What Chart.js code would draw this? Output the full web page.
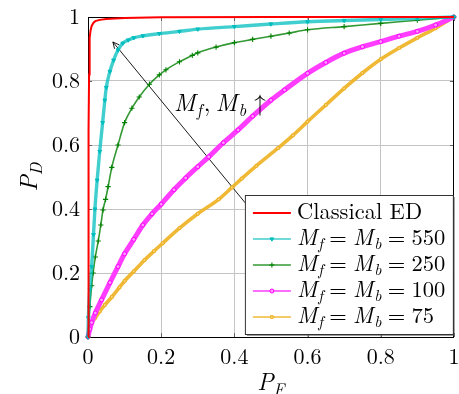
<!DOCTYPE html>
<html><head><meta charset="utf-8">
<script src="https://cdn.jsdelivr.net/npm/chart.js@4"></script>
<style>html,body{margin:0;padding:0;background:#fff}#wrap{width:459px;height:394px}</style>
</head><body>
<div id="wrap"><canvas id="c" width="459" height="394"></canvas></div>
<script>
// ---- tick labels ----
const xTicks = [0, 0.2, 0.4, 0.6, 0.8, 1];
const yTicks = [0, 0.2, 0.4, 0.6, 0.8, 1];

// ---- series (P_F, P_D) ----
const seriesLabels = ['Classical ED', 'M_f = M_b = 550', 'M_f = M_b = 250', 'M_f = M_b = 100', 'M_f = M_b = 75'];
const seriesSizes = ['550', '250', '100', '75'];

const classicalX = [0, 0.001, 0.002, 0.003, 0.004, 0.005, 0.007, 0.01, 0.015, 0.02, 0.032, 0.05, 0.1, 0.2, 0.5, 1];
const classicalY = [0, 0.35, 0.65, 0.82, 0.9, 0.935, 0.958, 0.972, 0.982, 0.987, 0.991, 0.994, 0.997, 0.999, 1, 1];

const m550X = [0, 0.001, 0.005, 0.01, 0.015, 0.019, 0.025, 0.032, 0.04, 0.046, 0.05, 0.06, 0.07, 0.082, 0.095, 0.11, 0.125, 0.15, 0.195, 0.25, 0.3, 0.4, 0.5, 0.6, 0.7, 0.8, 0.9, 1];
const m550Y = [0, 0.06, 0.15, 0.22, 0.32, 0.40, 0.49, 0.58, 0.67, 0.74, 0.78, 0.83, 0.865, 0.897, 0.918, 0.928, 0.935, 0.941, 0.948, 0.955, 0.962, 0.97, 0.978, 0.985, 0.989, 0.992, 0.996, 1];

const m250X = [0, 0.005, 0.01, 0.014, 0.02, 0.028, 0.035, 0.041, 0.048, 0.055, 0.065, 0.082, 0.1, 0.12, 0.14, 0.168, 0.195, 0.213, 0.25, 0.285, 0.3, 0.35, 0.4, 0.45, 0.5, 0.55, 0.6, 0.7, 0.8, 0.9, 1];
const m250Y = [0, 0.095, 0.16, 0.2, 0.25, 0.3, 0.35, 0.397, 0.43, 0.47, 0.53, 0.6, 0.67, 0.715, 0.75, 0.79, 0.819, 0.835, 0.86, 0.88, 0.888, 0.906, 0.92, 0.93, 0.94, 0.95, 0.96, 0.97, 0.98, 0.99, 1];

const m100X = [0, 0.005, 0.01, 0.02, 0.037, 0.06, 0.082, 0.1, 0.125, 0.15, 0.175, 0.2, 0.235, 0.267, 0.3, 0.33, 0.37, 0.41, 0.45, 0.5, 0.537, 0.6, 0.65, 0.7, 0.75, 0.8, 0.85, 0.9, 0.95, 1];
const m100Y = [0, 0.025, 0.045, 0.075, 0.116, 0.17, 0.22, 0.26, 0.305, 0.35, 0.385, 0.415, 0.46, 0.497, 0.532, 0.563, 0.607, 0.647, 0.69, 0.74, 0.772, 0.824, 0.858, 0.887, 0.907, 0.923, 0.94, 0.955, 0.975, 1];

const m75X = [0, 0.005, 0.01, 0.02, 0.032, 0.046, 0.065, 0.086, 0.1, 0.125, 0.154, 0.18, 0.204, 0.25, 0.3, 0.357, 0.393, 0.42, 0.46, 0.519, 0.56, 0.6, 0.65, 0.7, 0.75, 0.8, 0.85, 0.9, 0.95, 1];
const m75Y = [0, 0.025, 0.043, 0.06, 0.08, 0.1, 0.125, 0.155, 0.175, 0.205, 0.24, 0.268, 0.293, 0.34, 0.385, 0.43, 0.467, 0.495, 0.535, 0.59, 0.63, 0.673, 0.725, 0.777, 0.825, 0.868, 0.903, 0.935, 0.965, 1];

// annotation arrow (data coords): tail hidden under legend, head near the 550 curve
const arrowTail = [0.45, 0.391];
const arrowHead = [0.068, 0.922];
const arrowLabelPos = [0.235, 0.706];

const pts = (xs, ys) => xs.map((x, i) => ({x, y: ys[i]}));

const COL = {
  red: 'rgb(255,0,0)',
  cyan: 'rgb(0,190,190)', cyanL: 'rgba(0,190,190,0.75)',
  green: 'rgb(0,128,0)', greenL: 'rgba(0,128,0,0.8)',
  mag: 'rgb(255,0,255)', magL: 'rgb(255,60,255)',
  org: 'rgb(237,177,32)', orgL: 'rgba(237,177,32,0.9)'
};

const datasets = [
  {label: seriesLabels[0], data: pts(classicalX, classicalY), borderColor: COL.red, borderWidth: 2, pointRadius: 0, tension: 0},
  {label: seriesLabels[1], data: pts(m550X, m550Y), borderColor: COL.cyanL, borderWidth: 3.4,
   pointStyle: 'triangle', pointRotation: 180, pointRadius: 2.2, pointBackgroundColor: COL.cyan, pointBorderColor: COL.cyan, pointBorderWidth: 1, cubicInterpolationMode: 'monotone'},
  {label: seriesLabels[2], data: pts(m250X, m250Y), borderColor: COL.greenL, borderWidth: 1.6,
   pointStyle: 'cross', pointRadius: 2.6, pointBorderColor: COL.green, pointBorderWidth: 1.1, cubicInterpolationMode: 'monotone'},
  {label: seriesLabels[3], data: pts(m100X, m100Y), borderColor: COL.magL, borderWidth: 5,
   pointStyle: 'circle', pointRadius: 2, pointBackgroundColor: 'rgb(255,150,255)', pointBorderColor: COL.mag, pointBorderWidth: 1, cubicInterpolationMode: 'monotone'},
  {label: seriesLabels[4], data: pts(m75X, m75Y), borderColor: COL.orgL, borderWidth: 3.6,
   pointStyle: 'rect', pointRadius: 1.9, pointBackgroundColor: 'rgb(250,215,140)', pointBorderColor: COL.org, pointBorderWidth: 1, cubicInterpolationMode: 'monotone'}
];
datasets.forEach(d => { d.clip = 6; d.fill = false; });

const SERIF = "'Latin Modern Roman', 'Liberation Serif', monospace";

function fontStr(it, s) { return (it ? 'italic ' : '') + s.toFixed(1) + "px " + SERIF; }
function drawRuns(ctx, runs, x, y, size) {
  let cx = x;
  for (const r of runs) {
    const s = r.sub ? size * 0.7 : size;
    ctx.font = fontStr(r.it, s);
    ctx.fillText(r.t, cx, y + (r.sub ? size * 0.2 : 0));
    cx += ctx.measureText(r.t).width + (r.after || 0) * size;
  }
  return cx - x;
}
function runsWidth(ctx, runs, size) {
  let w = 0;
  for (const r of runs) {
    const s = r.sub ? size * 0.7 : size;
    ctx.font = fontStr(r.it, s);
    w += ctx.measureText(r.t).width + (r.after || 0) * size;
  }
  return w;
}
// math spacing in em units: thick space 5/18 around relations
const TH = 5 / 18;
function mEq(n) {
  return [{t: 'M', it: true, after: 0.05}, {t: 'f', it: true, sub: true, after: TH}, {t: '=', after: TH},
          {t: 'M', it: true, after: 0.05}, {t: 'b', it: true, sub: true, after: TH}, {t: '=', after: TH}, {t: n}];
}

const framePlugin = {
  id: 'frame',
  beforeDatasetsDraw(chart) {
    const {ctx, chartArea: a, scales} = chart;
    ctx.save();
    ctx.strokeStyle = '#666'; ctx.lineWidth = 1;
    xTicks.forEach(v => {
      const px = Math.round(scales.x.getPixelForValue(v)) + 0.5;
      ctx.beginPath(); ctx.moveTo(px, a.bottom); ctx.lineTo(px, a.bottom - 4);
      ctx.moveTo(px, a.top); ctx.lineTo(px, a.top + 4); ctx.stroke();
    });
    yTicks.forEach(v => {
      const py = Math.round(scales.y.getPixelForValue(v)) + 0.5;
      ctx.beginPath(); ctx.moveTo(a.left, py); ctx.lineTo(a.left + 4, py);
      ctx.moveTo(a.right, py); ctx.lineTo(a.right - 4, py); ctx.stroke();
    });
    ctx.strokeStyle = '#000'; ctx.lineWidth = 1;
    ctx.strokeRect(Math.round(a.left) + 0.5, Math.round(a.top) + 0.5, Math.round(a.right - a.left) - 1, Math.round(a.bottom - a.top));
    const tx = scales.x.getPixelForValue(arrowTail[0]), ty = scales.y.getPixelForValue(arrowTail[1]);
    const hx = scales.x.getPixelForValue(arrowHead[0]), hy = scales.y.getPixelForValue(arrowHead[1]);
    ctx.strokeStyle = '#000'; ctx.lineWidth = 0.9;
    ctx.beginPath(); ctx.moveTo(tx, ty); ctx.lineTo(hx, hy); ctx.stroke();
    const ang = Math.atan2(hy - ty, hx - tx);
    ctx.beginPath();
    ctx.moveTo(hx - 7 * Math.cos(ang - 0.45), hy - 7 * Math.sin(ang - 0.45));
    ctx.lineTo(hx, hy);
    ctx.lineTo(hx - 7 * Math.cos(ang + 0.45), hy - 7 * Math.sin(ang + 0.45));
    ctx.stroke();
    ctx.restore();
  },
  afterDatasetsDraw(chart) {
    const {ctx, chartArea: a, scales} = chart;
    ctx.save();
    ctx.fillStyle = '#000';
    ctx.textBaseline = 'alphabetic'; ctx.textAlign = 'left';
    const lx = scales.x.getPixelForValue(arrowLabelPos[0]), ly = scales.y.getPixelForValue(arrowLabelPos[1]);
    drawRuns(ctx, [{t: 'M', it: true, after: 0.05}, {t: 'f', it: true, sub: true, after: 0.08}, {t: ',', after: 0.22}, {t: 'M', it: true, after: 0.05}, {t: 'b', it: true, sub: true, after: 0.33}, {t: '\u2191'}], lx, ly, 24);

    const L = a.right - 209, T = a.bottom - 142, W = 208, H = 139;
    ctx.fillStyle = 'rgba(90,90,90,0.6)';
    ctx.fillRect(L + 2, T + 2, W, H);
    ctx.fillStyle = '#fff';
    ctx.fillRect(L, T, W, H);
    ctx.strokeStyle = '#333'; ctx.lineWidth = 1;
    ctx.strokeRect(L + 0.5, T + 0.5, W, H);
    chart.data.datasets.forEach((d, i) => {
      const cy = T + 18 + i * 26;
      ctx.strokeStyle = d.borderColor;
      ctx.lineWidth = i === 0 ? 2 : 1.5;
      ctx.beginPath(); ctx.moveTo(L + 8, cy); ctx.lineTo(L + 46, cy); ctx.stroke();
      if (d.pointRadius > 0) {
        ctx.fillStyle = d.pointBackgroundColor || d.pointBorderColor;
        ctx.strokeStyle = d.pointBorderColor;
        ctx.lineWidth = d.pointBorderWidth;
        Chart.helpers.drawPoint(ctx, {pointStyle: d.pointStyle, rotation: d.pointRotation || 0, radius: d.pointRadius, borderWidth: d.pointBorderWidth}, L + 27, cy);
      }
      ctx.fillStyle = '#000';
      const runs = i === 0 ? [{t: 'Classical ED'}] : mEq(seriesSizes[i - 1]);
      drawRuns(ctx, runs, L + 52, cy + 5.5, 22.5);
    });

    ctx.fillStyle = '#000';
    const ttl = [{t: 'P', it: true}, {t: 'F', it: true, sub: true}];
    const w1 = runsWidth(ctx, ttl, 24);
    drawRuns(ctx, ttl, scales.x.getPixelForValue(0.5) - w1 / 2, 390, 24);
    const ttl2 = [{t: 'P', it: true}, {t: 'D', it: true, sub: true}];
    const w2 = runsWidth(ctx, ttl2, 24);
    ctx.translate(37, (a.top + a.bottom) / 2);
    ctx.rotate(-Math.PI / 2);
    drawRuns(ctx, ttl2, -w2 / 2, 0, 24);
    ctx.restore();
  }
};

const fmt = v => (v === 0 ? '0' : v === 1 ? '1' : v.toFixed(1));

new Chart(document.getElementById('c'), {
  type: 'line',
  data: {datasets},
  options: {
    responsive: false, animation: false, devicePixelRatio: 1,
    layout: {padding: {top: 17, right: 1, left: 0, bottom: 0}},
    plugins: {legend: {display: false}, tooltip: {enabled: false}},
    elements: {line: {tension: 0}},
    scales: {
      x: {
        type: 'linear', min: 0, max: 1,
        afterBuildTicks: s => { s.ticks = xTicks.map(v => ({value: v})); },
        afterFit: s => { s.height = 57; s.paddingLeft = 0; s.paddingRight = 0; },
        grid: {color: '#c4c4c4', lineWidth: 1, drawTicks: false},
        border: {display: false},
        ticks: {padding: 7, color: '#000', font: {family: SERIF, size: 22}, callback: v => fmt(v), maxRotation: 0, autoSkip: false}
      },
      y: {
        type: 'linear', min: 0, max: 1,
        afterBuildTicks: s => { s.ticks = yTicks.map(v => ({value: v})); },
        afterFit: s => { s.width = 88; s.paddingTop = 0; s.paddingBottom = 0; },
        grid: {color: '#c4c4c4', lineWidth: 1, drawTicks: false},
        border: {display: false},
        ticks: {padding: 8, color: '#000', font: {family: SERIF, size: 22}, callback: v => fmt(v), autoSkip: false}
      }
    }
  },
  plugins: [framePlugin]
});
</script>
</body></html>
